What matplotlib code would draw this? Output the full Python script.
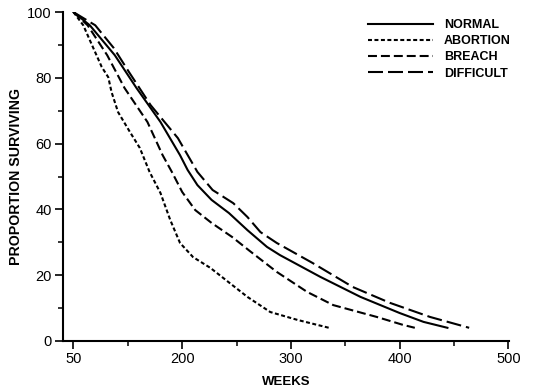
import numpy as np
import matplotlib
matplotlib.use('Agg')
import matplotlib.pyplot as plt
from matplotlib.ticker import FixedLocator

# Survival curves (x in axis units, y in percent)
normal_weeks = [100, 115, 138, 158, 180, 198, 205, 214, 227, 243, 260, 278, 290, 327, 364, 400, 422, 444]
normal_surv = [100, 96.0, 86.9, 76.9, 66.6, 56.5, 52.0, 47.4, 42.9, 38.9, 33.7, 28.6, 26.1, 19.5, 13.4, 8.5, 5.8, 4.0]

abortion_weeks = [100, 109, 117, 126, 132, 135, 141, 152, 161, 170, 180, 189, 198, 210, 226, 260, 281, 306, 335]
abortion_surv = [100, 96.0, 90.0, 83.3, 80.2, 75.7, 69.6, 63.5, 58.7, 51.4, 45.0, 36.8, 29.8, 25.5, 22.2, 13.4, 8.8, 6.4, 4.0]

breach_weeks = [100, 113, 131, 147, 168, 182, 191, 200, 212, 227, 246, 262, 287, 315, 339, 379, 403, 414]
breach_surv = [100, 96.0, 86.9, 76.9, 66.6, 56.5, 51.1, 45.3, 39.8, 35.9, 31.6, 27.4, 21.0, 14.9, 10.9, 7.3, 4.9, 4.0]

difficult_weeks = [100, 120, 137, 151, 171, 196, 214, 228, 247, 260, 272, 287, 320, 357, 391, 428, 464]
difficult_surv = [100, 96.0, 89.1, 81.8, 71.7, 61.7, 51.4, 45.9, 41.9, 37.7, 33.1, 29.8, 23.7, 16.4, 11.6, 7.3, 4.0]

x_ticks = [100, 200, 300, 400, 500]
x_tick_labels = ['50', '200', '300', '400', '500']
y_ticks = [0, 20, 40, 60, 80, 100]

plt.rcParams['font.family'] = ['Liberation Sans', 'DejaVu Sans']

fig = plt.figure(figsize=(5.38, 3.91), dpi=100)
ax = fig.add_axes([0.117, 0.128, 0.829, 0.841])

lw = 1.5
ax.plot(normal_weeks, normal_surv, color='k', lw=lw, label='NORMAL')
ax.plot(abortion_weeks, abortion_surv, color='k', lw=lw, dashes=(1.9, 1.2), label='ABORTION')
ax.plot(breach_weeks, breach_surv, color='k', lw=lw, dashes=(4.3, 1.9), label='BREACH')
ax.plot(difficult_weeks, difficult_surv, color='k', lw=lw, dashes=(7.2, 2.4), label='DIFFICULT')

ax.set_xlim(90.3, 500.6)
ax.set_ylim(0, 100)

# Axes: only left and bottom lines
for side in ['top', 'right']:
  ax.spines[side].set_visible(False)
for side in ['left', 'bottom']:
  ax.spines[side].set_linewidth(1.5)

ax.xaxis.set_major_locator(FixedLocator(x_ticks))
ax.set_xticklabels(x_tick_labels)
ax.xaxis.set_minor_locator(FixedLocator([150, 250, 350, 450]))
ax.yaxis.set_major_locator(FixedLocator(y_ticks))
ax.yaxis.set_minor_locator(FixedLocator([10, 30, 50, 70, 90]))
ax.tick_params(which='major', direction='out', length=6, width=1.2, labelsize=10.5, pad=2)
ax.tick_params(which='minor', direction='out', length=3.5, width=1.1)

ax.set_xlabel('WEEKS', fontsize=9.5, fontweight='bold', labelpad=7)
ax.set_ylabel('PROPORTION SURVIVING', fontsize=10.2, fontweight='bold', labelpad=3)

lgnd = ax.legend(loc='upper left', bbox_to_anchor=(0.665, 1.005), frameon=False,
                 prop={'size': 9.0, 'weight': 'bold'}, handlelength=5.2, handletextpad=0.85,
                 labelspacing=0.33, borderpad=0.2)

fig.savefig('out.png', dpi=100)
